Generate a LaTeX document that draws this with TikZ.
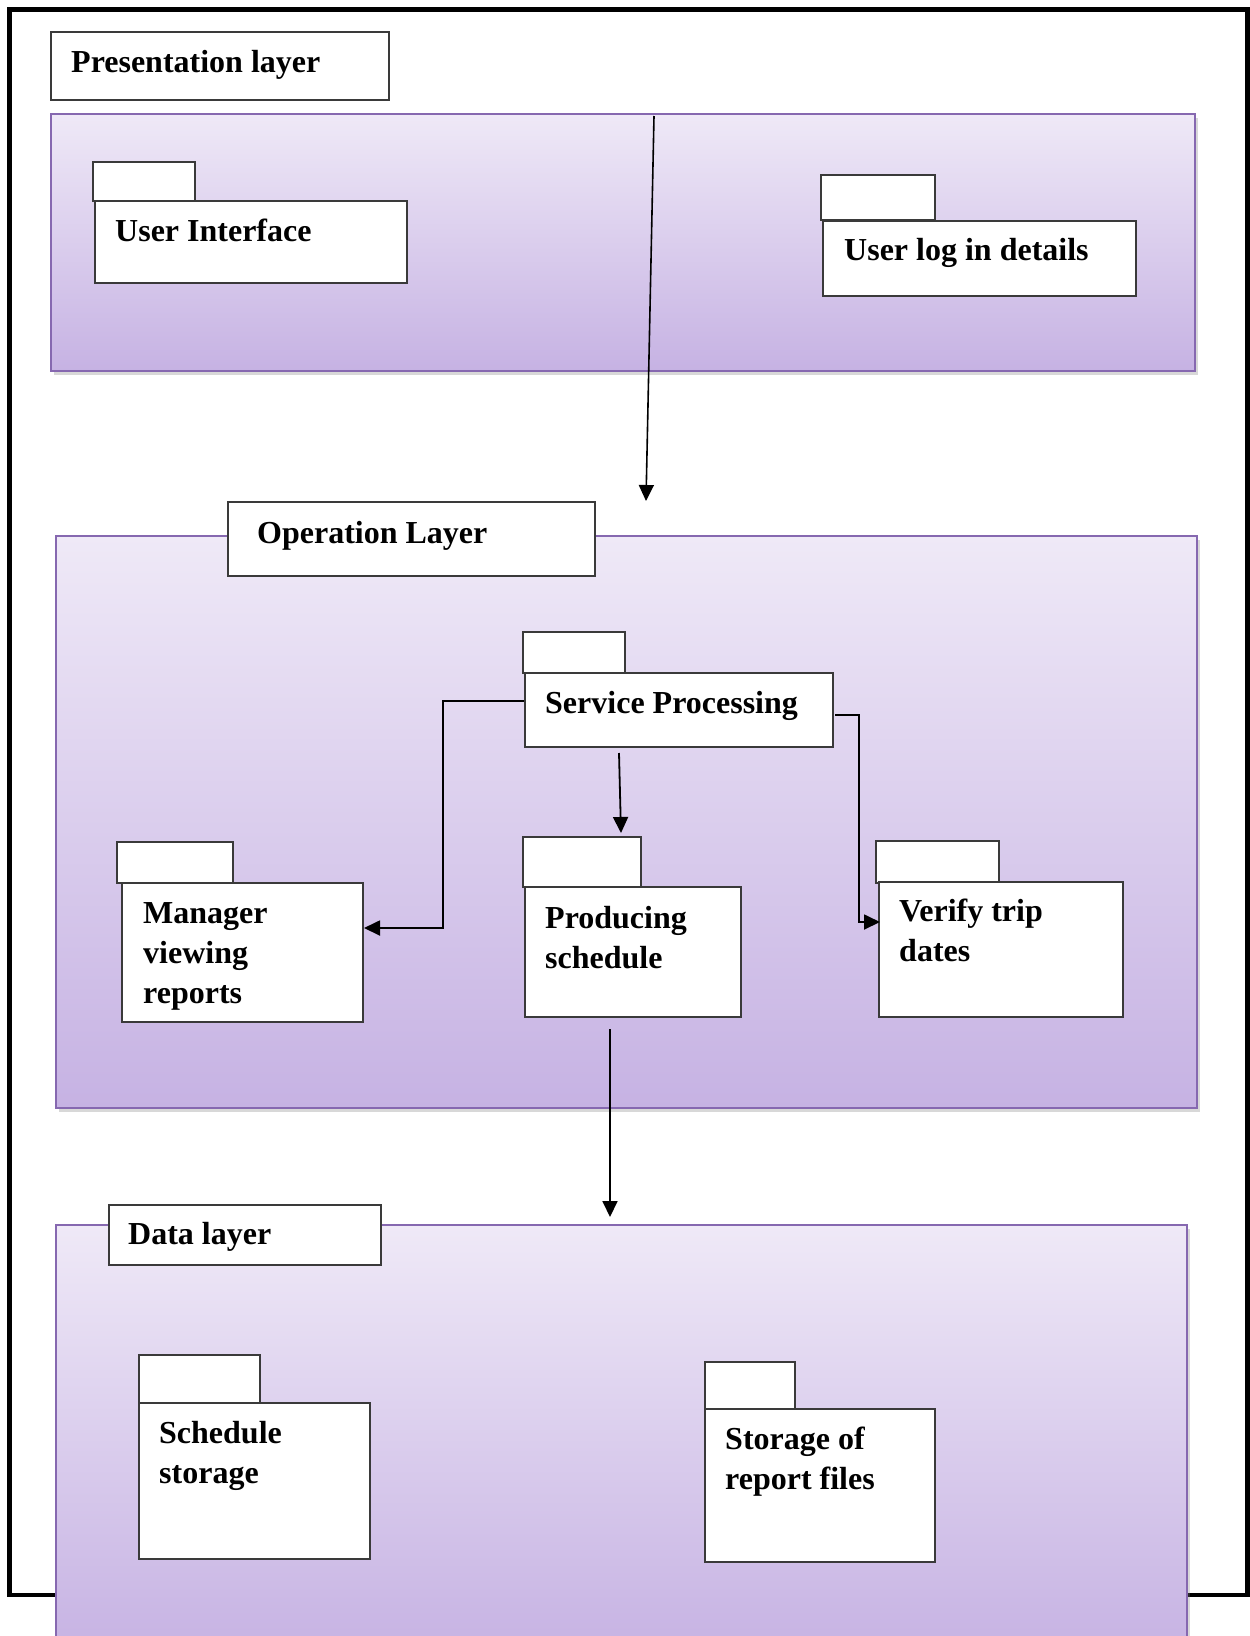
\documentclass[tikz,border=0pt]{standalone}
\usepackage{fontspec}
\setmainfont{Liberation Serif}
\usetikzlibrary{arrows.meta,calc,shadows}
\definecolor{panelTop}{HTML}{EFE9F7}
\definecolor{panelBot}{HTML}{C6B2E3}
\definecolor{panelLine}{HTML}{8668B0}
\definecolor{boxLine}{HTML}{3A3A3A}

\begin{document}
\begin{tikzpicture}[x=1pt,y=-1pt,
  panel/.style={draw=panelLine,line width=1.6pt,top color=panelTop,bottom color=panelBot,
    rectangle,inner sep=0pt,outer sep=0pt,anchor=north west,
    drop shadow={shadow xshift=3pt,shadow yshift=-4pt,opacity=0.3}},
  box/.style={draw=boxLine,line width=1.3pt,fill=white,rectangle,inner sep=0pt,outer sep=0pt,anchor=north west},
  % text nodes are placed by the baseline of their last line
  lbl/.style={anchor=base west,inner sep=0pt,font=\fontsize{32}{40}\selectfont\bfseries,align=left},
  link/.style={line width=1.8pt,-{Triangle[length=16pt,width=15pt]}}
]
\clip (0,0) rectangle (1250,1636);
\fill[white] (0,0) rectangle (1250,1636);

% outer frame
\draw[line width=4.5pt] (9.5,9.5) rectangle (1247.5,1595);

% ---------------- presentation layer ----------------
\node[panel,minimum width=1144pt,minimum height=257pt] (pres) at (51,114) {};
\node[box,minimum width=338pt,minimum height=68pt] (presLbl) at (51,32) {};
\node[lbl] (presTxt) at (71,72) {Presentation layer};

\node[box,minimum width=102pt,minimum height=39pt] (uiTab) at (93,162) {};
\node[box,minimum width=312pt,minimum height=82pt] (ui) at (95,201) {};
\node[lbl] (uiTxt) at (115,241) {User Interface};

\node[box,minimum width=114pt,minimum height=45pt] (logTab) at (821,175) {};
\node[box,minimum width=313pt,minimum height=75pt] (log) at (823,221) {};
\node[lbl] (logTxt) at (844,260) {User log in details};

% ---------------- operation layer ----------------
\node[panel,minimum width=1141pt,minimum height=572pt] (oper) at (56,536) {};
\node[box,minimum width=367pt,minimum height=74pt] (operLbl) at (228,502) {};
\node[lbl] (operTxt) at (257,543) {Operation Layer};

\node[box,minimum width=102pt,minimum height=41pt] (spTab) at (523,632) {};
\node[box,minimum width=308pt,minimum height=74pt] (sp) at (525,673) {};
\node[lbl] (spTxt) at (545,713) {Service Processing};

\node[box,minimum width=116pt,minimum height=41pt] (mgrTab) at (117,842) {};
\node[box,minimum width=241pt,minimum height=139pt] (mgr) at (122,883) {};
\node[lbl] (mgrTxt) at (143,1003) {Manager\\viewing\\reports};

\node[box,minimum width=118pt,minimum height=50pt] (prodTab) at (523,837) {};
\node[box,minimum width=216pt,minimum height=130pt] (prod) at (525,887) {};
\node[lbl] (prodTxt) at (545,968) {Producing\\schedule};

\node[box,minimum width=123pt,minimum height=42pt] (verTab) at (876,841) {};
\node[box,minimum width=244pt,minimum height=135pt] (ver) at (879,882) {};
\node[lbl] (verTxt) at (899,961) {Verify trip\\dates};

% ---------------- data layer ----------------
\node[panel,minimum width=1131pt,minimum height=430pt] (data) at (56,1225) {};
\node[box,minimum width=272pt,minimum height=60pt] (dataLbl) at (109,1205) {};
\node[lbl] (dataTxt) at (128,1244) {Data layer};

\node[box,minimum width=121pt,minimum height=48pt] (schTab) at (139,1355) {};
\node[box,minimum width=231pt,minimum height=156pt] (sch) at (139,1403) {};
\node[lbl] (schTxt) at (159,1483) {Schedule\\storage};

\node[box,minimum width=90pt,minimum height=47pt] (repTab) at (705,1362) {};
\node[box,minimum width=230pt,minimum height=153pt] (rep) at (705,1409) {};
\node[lbl] (repTxt) at (725,1489) {Storage of\\report files};

% ---------------- connectors ----------------
\coordinate (presOut) at ($(pres.north west)+(603,2)$);
\coordinate (operIn) at ($(operLbl.north east)+(51,-1)$);
\draw[link,line width=1.6pt] (presOut) -- (operIn);

\draw[link] ($(sp.north west)+(-1,28)$) -- ++(-81,0) |- ($(mgr.north east)+(1,45)$);
\draw[link] ($(sp.south west)+(94,6)$) -- ($(prodTab.north west)+(98,-4)$);
\draw[link] ($(sp.north east)+(2,42)$) -- ++(24,0) |- ($(ver.north west)+(1,40)$);

\coordinate (dataIn) at ($(data.north west)+(554,-8)$);
\draw[link] ($(prod.south west)+(85,12)$) -- (dataIn);
\end{tikzpicture}
\end{document}
